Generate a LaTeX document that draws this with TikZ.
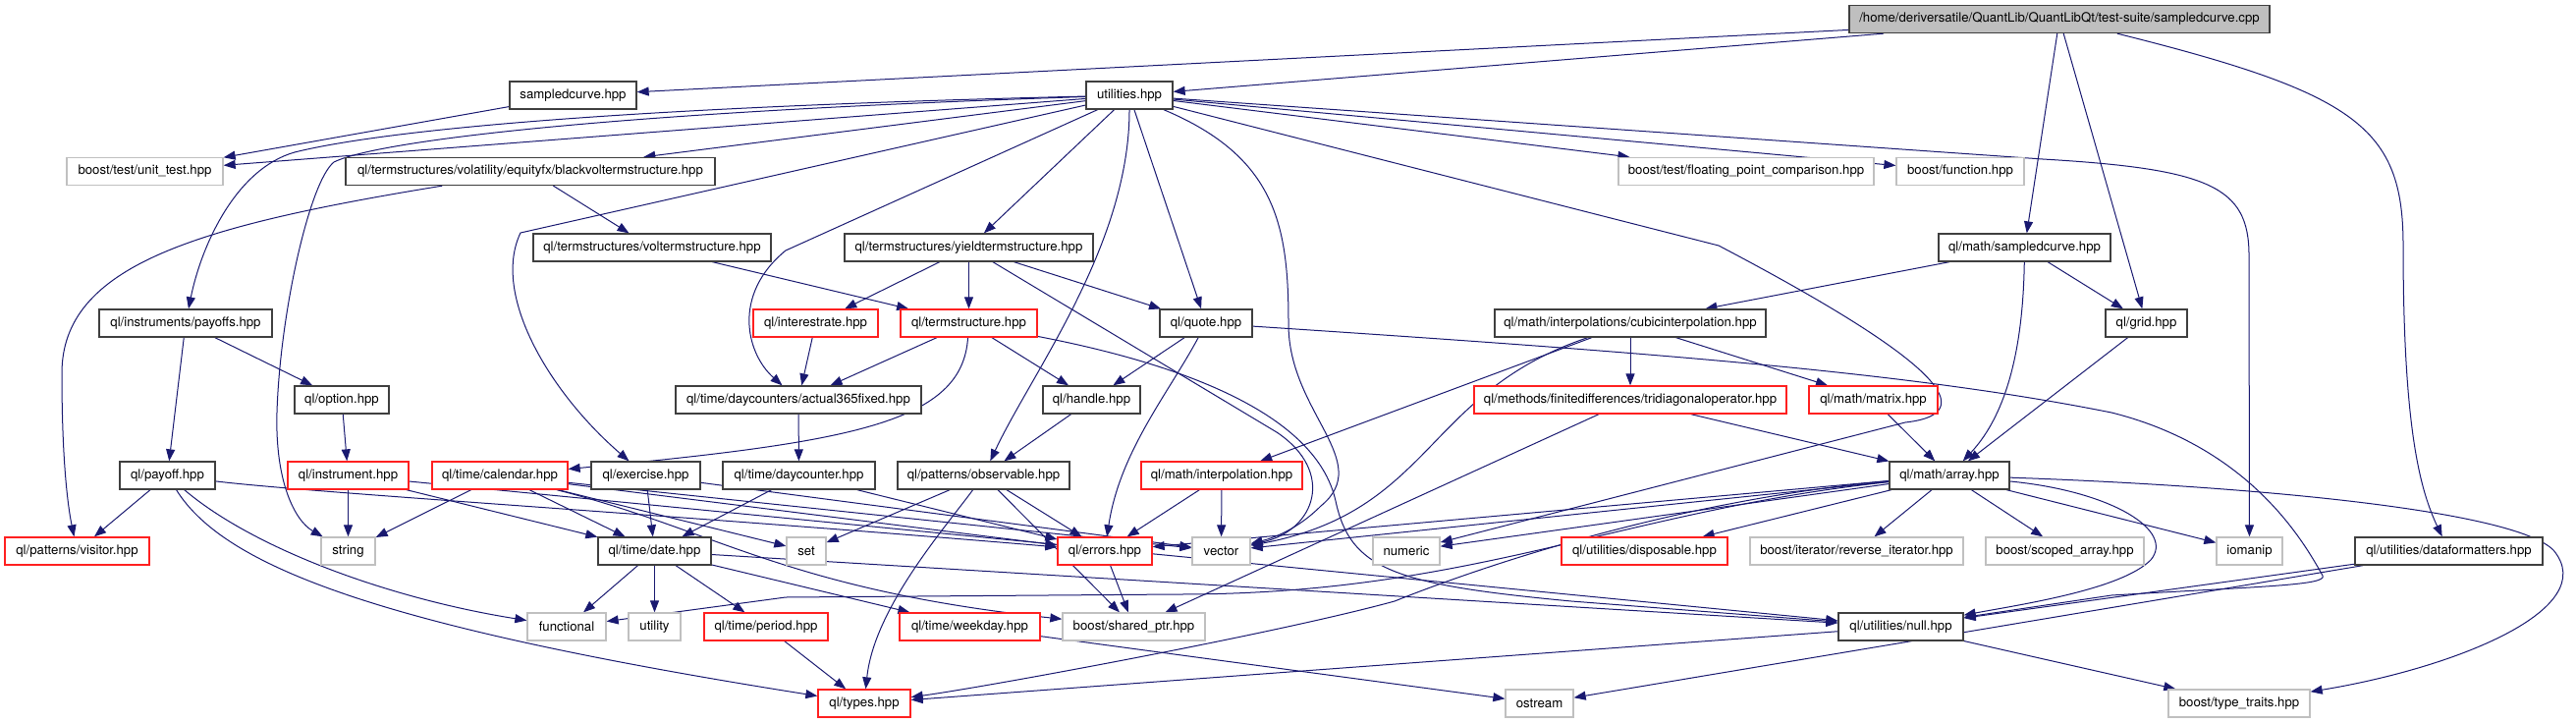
\documentclass[tikz,border=0pt]{standalone}
\usepackage{fontspec}
\setmainfont{TeX Gyre Heros}
\usepackage{tikz}
\usetikzlibrary{arrows.meta,backgrounds}
\definecolor{IncEdge}{HTML}{191970}
\definecolor{IncFrame}{HTML}{3F3F3F}
\definecolor{IncRed}{HTML}{FF2020}
\definecolor{IncGrey}{HTML}{C0C0C0}
\definecolor{IncRoot}{HTML}{BFBFBF}
\tikzset{
  incarrow/.style={-{Triangle[length=12pt,width=9pt]},line width=1pt,draw=IncEdge},
  filebox/.style={draw=IncFrame,line width=1.3pt,fill=white,minimum height=28pt,inner xsep=2pt,inner ysep=0pt,font=\fontsize{13.2}{15}\selectfont},
  srcfile/.style={filebox,fill=IncRoot},
  header/.style={filebox},
  trunc/.style={filebox,draw=IncRed},
  syshdr/.style={filebox,draw=IncGrey},
  boxw/.style={minimum width=#1pt}
}

\begin{document}
\begin{tikzpicture}[x=1pt,y=-1pt]
  \useasboundingbox (0,0) rectangle (2623,736);
  % files
  \node[srcfile,boxw=428] (root) at (2097,19.5) {/home/deriversatile/QuantLib/QuantLibQt/test-suite/sampledcurve.cpp};
  \node[header,boxw=129] (sc) at (583.5,97) {sampledcurve.hpp};
  \node[header,boxw=88] (util) at (1150,97) {utilities.hpp};
  \node[syshdr,boxw=159] (unittest) at (147.5,174.5) {boost/test/unit\_test.hpp};
  \node[header,boxw=376] (blackvol) at (540,174.5) {ql/termstructures/volatility/equityfx/blackvoltermstructure.hpp};
  \node[syshdr,boxw=260] (fpc) at (1778,174.5) {boost/test/floating\_point\_comparison.hpp};
  \node[syshdr,boxw=130] (bfunc) at (1996,174.5) {boost/function.hpp};
  \node[header,boxw=242] (volts) at (664,252) {ql/termstructures/voltermstructure.hpp};
  \node[header,boxw=253] (yts) at (986.5,252) {ql/termstructures/yieldtermstructure.hpp};
  \node[header,boxw=175] (msc) at (2061.5,252) {ql/math/sampledcurve.hpp};
  \node[header,boxw=176] (payoffs) at (189,329) {ql/instruments/payoffs.hpp};
  \node[trunc,boxw=127] (irate) at (830.5,329) {ql/interestrate.hpp};
  \node[trunc,boxw=139] (tstruct) at (986.5,329) {ql/termstructure.hpp};
  \node[header,boxw=94] (quote) at (1228,329) {ql/quote.hpp};
  \node[header,boxw=276] (cubic) at (1660,329) {ql/math/interpolations/cubicinterpolation.hpp};
  \node[header,boxw=83] (grid) at (2185.5,329) {ql/grid.hpp};
  \node[header,boxw=96] (option) at (348,407) {ql/option.hpp};
  \node[header,boxw=250] (a365) at (813,407) {ql/time/daycounters/actual365fixed.hpp};
  \node[header,boxw=99] (handle) at (1111.5,407) {ql/handle.hpp};
  \node[trunc,boxw=318] (tridiag) at (1660,407) {ql/methods/finitedifferences/tridiagonaloperator.hpp};
  \node[trunc,boxw=131] (matrix) at (1907.5,407) {ql/math/matrix.hpp};
  \node[header,boxw=97] (payoff) at (170.5,484) {ql/payoff.hpp};
  \node[trunc,boxw=123] (instr) at (354.5,484) {ql/instrument.hpp};
  \node[trunc,boxw=138] (cal) at (509,484) {ql/time/calendar.hpp};
  \node[header,boxw=111] (exer) at (657.5,484) {ql/exercise.hpp};
  \node[header,boxw=155] (dc) at (813.5,484) {ql/time/daycounter.hpp};
  \node[header,boxw=175] (obs) at (1001.5,484) {ql/patterns/observable.hpp};
  \node[trunc,boxw=164] (interp) at (1244,484) {ql/math/interpolation.hpp};
  \node[header,boxw=122] (array) at (1985,484) {ql/math/array.hpp};
  \node[trunc,boxw=147] (visitor) at (78.5,561) {ql/patterns/visitor.hpp};
  \node[syshdr,boxw=55] (string) at (354.5,561) {string};
  \node[header,boxw=115] (date) at (666.5,561) {ql/time/date.hpp};
  \node[syshdr,boxw=40] (set) at (821,561) {set};
  \node[trunc,boxw=96] (errors) at (1125,561) {ql/errors.hpp};
  \node[syshdr,boxw=59] (vector) at (1243.5,561) {vector};
  \node[syshdr,boxw=68] (numeric) at (1432,561) {numeric};
  \node[trunc,boxw=169] (disp) at (1674.5,561) {ql/utilities/disposable.hpp};
  \node[syshdr,boxw=217] (revit) at (1890.5,561) {boost/iterator/reverse\_iterator.hpp};
  \node[syshdr,boxw=161] (scoped) at (2102.5,561) {boost/scoped\_array.hpp};
  \node[syshdr,boxw=67] (iomanip) at (2290.5,561) {iomanip};
  \node[header,boxw=191] (dfmt) at (2493.5,561) {ql/utilities/dataformatters.hpp};
  \node[syshdr,boxw=80] (functional) at (577,638) {functional};
  \node[syshdr,boxw=53] (utility) at (666.5,638) {utility};
  \node[trunc,boxw=126] (period) at (780,638) {ql/time/period.hpp};
  \node[trunc,boxw=143] (weekday) at (987.5,638) {ql/time/weekday.hpp};
  \node[syshdr,boxw=145] (sptr) at (1154.5,638) {boost/shared\_ptr.hpp};
  \node[header,boxw=127] (null) at (1935.5,638) {ql/utilities/null.hpp};
  \node[trunc,boxw=94] (types) at (880,716) {ql/types.hpp};
  \node[syshdr,boxw=69] (ostream) at (1567.5,716) {ostream};
  \node[syshdr,boxw=144] (ttraits) at (2280,716) {boost/type\_traits.hpp};
  % includes
  \begin{scope}[on background layer]
  \draw[incarrow] (root) -- (sc);
  \draw[incarrow] (root) -- (util);
  \draw[incarrow] (root) -- (msc);
  \draw[incarrow] (root) -- (grid);
  \draw[incarrow] (root) .. controls (2400,95) and (2447,130) .. (2447,250) .. controls (2447,440) and (2465,500) .. (dfmt);
  \draw[incarrow] (sc) -- (unittest);
  \draw[incarrow] (util) -- (unittest);
  \draw[incarrow] (util) .. controls (600,110) and (380,135) .. (300,155) .. controls (240,172) and (205,250) .. (payoffs);
  \draw[incarrow] (util) -- (blackvol);
  \draw[incarrow] (util) .. controls (600,115) and (380,145) .. (340,165) .. controls (315,185) and (285,320) .. (282,420) .. controls (280,490) and (300,530) .. (string);
  \draw[incarrow] (util) -- (530,237) .. controls (500,300) and (560,400) .. (exer);
  \draw[incarrow] (util) -- (800,255) .. controls (745,300) and (760,360) .. (a365);
  \draw[incarrow] (util) -- (yts);
  \draw[incarrow] (util) .. controls (1150,250) and (1050,380) .. (obs);
  \draw[incarrow] (util) -- (quote);
  \draw[incarrow] (util) .. controls (1300,160) and (1312,230) .. (1312,330) .. controls (1312,420) and (1400,470) .. (1345,515) .. controls (1320,540) and (1295,548) .. (vector);
  \draw[incarrow] (util) -- (1750,250) .. controls (1950,355) and (2030,420) .. (1940,430) -- (numeric);
  \draw[incarrow] (util) -- (2080,162) .. controls (2250,172) and (2290,190) .. (2290,260) -- (iomanip);
  \draw[incarrow] (util) -- (fpc);
  \draw[incarrow] (util) -- (bfunc);
  \draw[incarrow] (blackvol) -- (volts);
  \draw[incarrow] (blackvol) .. controls (200,230) and (63,270) .. (63,380) .. controls (63,460) and (68,510) .. (visitor);
  \draw[incarrow] (volts) -- (tstruct);
  \draw[incarrow] (yts) -- (irate);
  \draw[incarrow] (yts) -- (tstruct);
  \draw[incarrow] (yts) -- (quote);
  \draw[incarrow] (yts) -- (1300,440) .. controls (1360,480) and (1340,540) .. (vector);
  \draw[incarrow] (msc) -- (cubic);
  \draw[incarrow] (msc) -- (grid);
  \draw[incarrow] (msc) .. controls (2060,350) and (2045,420) .. (array);
  \draw[incarrow] (payoffs) -- (payoff);
  \draw[incarrow] (payoffs) -- (option);
  \draw[incarrow] (irate) -- (a365);
  \draw[incarrow] (tstruct) -- (a365);
  \draw[incarrow] (tstruct) .. controls (980,430) and (870,450) .. (cal);
  \draw[incarrow] (tstruct) -- (handle);
  \draw[incarrow] (tstruct) .. controls (1200,370) and (1340,420) .. (1360,510) .. controls (1375,580) and (1420,595) .. (1600,612) -- (null);
  \draw[incarrow] (quote) -- (handle);
  \draw[incarrow] (quote) .. controls (1190,400) and (1140,460) .. (errors);
  \draw[incarrow] (quote) .. controls (1700,360) and (1950,380) .. (2150,420) .. controls (2290,455) and (2345,550) .. (2365,586) .. controls (2370,596) and (2300,597) .. (2150,606) -- (null);
  \draw[incarrow] (cubic) -- (interp);
  \draw[incarrow] (cubic) -- (tridiag);
  \draw[incarrow] (cubic) -- (matrix);
  \draw[incarrow] (cubic) .. controls (1450,400) and (1460,520) .. (vector);
  \draw[incarrow] (grid) -- (array);
  \draw[incarrow] (option) -- (instr);
  \draw[incarrow] (a365) -- (dc);
  \draw[incarrow] (handle) -- (obs);
  \draw[incarrow] (tridiag) -- (array);
  \draw[incarrow] (tridiag) -- (sptr);
  \draw[incarrow] (matrix) -- (array);
  \draw[incarrow] (payoff) -- (visitor);
  \draw[incarrow] (payoff) .. controls (230,580) and (400,640) .. (types);
  \draw[incarrow] (payoff) .. controls (260,560) and (400,610) .. (functional);
  \draw[incarrow] (payoff) .. controls (320,502) and (700,525) .. (errors);
  \draw[incarrow] (instr) -- (string);
  \draw[incarrow] (instr) -- (date);
  \draw[incarrow] (instr) -- (null);
  \draw[incarrow] (cal) -- (string);
  \draw[incarrow] (cal) -- (date);
  \draw[incarrow] (cal) -- (set);
  \draw[incarrow] (cal) -- (errors);
  \draw[incarrow] (cal) -- (vector);
  \draw[incarrow] (cal) .. controls (730,540) and (800,600) .. (sptr);
  \draw[incarrow] (exer) -- (date);
  \draw[incarrow] (exer) -- (vector);
  \draw[incarrow] (dc) -- (date);
  \draw[incarrow] (dc) -- (errors);
  \draw[incarrow] (obs) -- (set);
  \draw[incarrow] (obs) .. controls (960,540) and (890,620) .. (types);
  \draw[incarrow] (obs) -- (sptr);
  \draw[incarrow] (obs) -- (errors);
  \draw[incarrow] (interp) -- (errors);
  \draw[incarrow] (interp) -- (vector);
  \draw[incarrow] (array) -- (vector);
  \draw[incarrow] (array) -- (numeric);
  \draw[incarrow] (array) -- (errors);
  \draw[incarrow] (array) -- (disp);
  \draw[incarrow] (array) -- (revit);
  \draw[incarrow] (array) -- (scoped);
  \draw[incarrow] (array) -- (iomanip);
  \draw[incarrow] (array) .. controls (2150,500) and (2215,540) .. (2190,570) .. controls (2160,600) and (2060,615) .. (null);
  \draw[incarrow] (array) .. controls (2300,495) and (2560,520) .. (2600,560) .. controls (2650,620) and (2500,680) .. (ttraits);
  \draw[incarrow] (array) .. controls (1650,520) and (1500,605) .. (1200,605) -- (800,608) -- (functional);
  \draw[incarrow] (array) .. controls (1700,510) and (1500,580) .. (1420,612) .. controls (1300,645) and (1000,700) .. (types);
  \draw[incarrow] (errors) -- (sptr);
  \draw[incarrow] (date) -- (functional);
  \draw[incarrow] (date) -- (utility);
  \draw[incarrow] (date) -- (period);
  \draw[incarrow] (date) -- (weekday);
  \draw[incarrow] (date) -- (null);
  \draw[incarrow] (period) -- (types);
  \draw[incarrow] (weekday) -- (ostream);
  \draw[incarrow] (null) -- (types);
  \draw[incarrow] (null) -- (ttraits);
  \draw[incarrow] (dfmt) -- (null);
  \draw[incarrow] (dfmt) -- (ostream);
  \end{scope}
\end{tikzpicture}
\end{document}
